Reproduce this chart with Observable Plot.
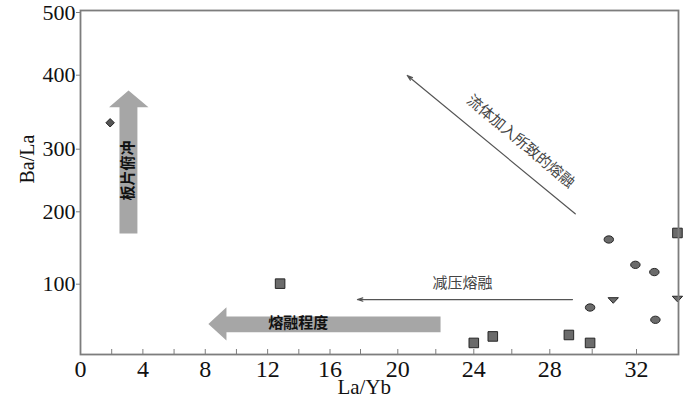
<!DOCTYPE html>
<html><head><meta charset="utf-8">
<script src="https://cdn.jsdelivr.net/npm/d3@7"></script>
<script src="https://cdn.jsdelivr.net/npm/@observablehq/plot@0.6"></script>
<style>body{margin:0;background:#fff}</style>
</head><body><div id="chart"></div>
<script>
// ---- data (La/Yb, Ba/La) ----
const squares   = [[12.8, 98], [24.0, 16], [25.0, 25], [28.9, 27], [29.9, 16], [33.95, 168]];
const circles   = [[30.75, 159], [31.95, 124], [32.85, 114], [29.9, 65], [32.9, 48]];
const triangles = [[30.95, 75], [33.95, 77]];
const diamonds  = [[1.9, 333]];

// ---- axis ticks ----
const xTickLabels = [0, 4, 8, 12, 16, 20, 24, 28, 32];
const xMinorTicks = [0, 2, 4, 6, 8, 10, 12, 14, 16, 18, 20, 22, 24, 26, 28, 30, 32];
const yTickLabels = [100, 200, 300, 400, 500];
const xTitle = ["La/Yb"];
const yTitle = ["Ba/La"];

// ---- annotations (data units) ----
const slabArrow  = [[2.5, 167.3], [2.5, 354], [1.83, 354], [3.08, 376.6], [4.36, 354], [3.65, 354], [3.65, 167.3]];
const meltArrow  = [[22.25, 52.6], [9.36, 52.6], [9.36, 65.4], [8.2, 42.2], [9.36, 19.4], [9.36, 30.8], [22.25, 30.8]];
const thinArrows = [
  {x1: 29.07, y1: 76, x2: 17.8, y2: 76},
  {x1: 29.2, y1: 194.5, x2: 20.5, y2: 396.9}
];
const boldLabels = [
  {text: "板片俯冲", x: 3.08, y: 262.8, rotate: -90},
  {text: "熔融程度", x: 13.97, y: 42.9, rotate: 0}
];
const grayLabels = [
  {text: "减压熔融", x: 23.4, y: 98, rotate: 0},
  {text: "流体加入所致的熔融", x: 26.46, y: 307.7, rotate: 40}
];

// The source figure's axes are not evenly spaced; these warps reproduce its tick spacing.
const warpX = d3.scaleLinear().domain([0, 16, 18, 20, 24, 28, 30, 32, 34]).range([0, 249.5, 280, 317.3, 393.3, 469.3, 511.7, 556, 598]);
const warpY = d3.scaleLinear().domain([0, 100, 200, 300, 400, 500]).range([0, 72.3, 144.7, 207.3, 281.3, 344]);

const flatDown = {draw(ctx, size) {
  const s = Math.sqrt(size / Math.PI);
  ctx.moveTo(-1.2 * s, -0.6 * s); ctx.lineTo(1.2 * s, -0.6 * s); ctx.lineTo(0, 0.7 * s); ctx.closePath();
}};
const ellipse = {draw(ctx, size) {
  const s = Math.sqrt(size / Math.PI), rx = 1.1 * s, ry = 0.85 * s, k = 0.5523;
  ctx.moveTo(rx, 0);
  ctx.bezierCurveTo(rx, k * ry, k * rx, ry, 0, ry);
  ctx.bezierCurveTo(-k * rx, ry, -rx, k * ry, -rx, 0);
  ctx.bezierCurveTo(-rx, -k * ry, -k * rx, -ry, 0, -ry);
  ctx.bezierCurveTo(k * rx, -ry, rx, -k * ry, rx, 0);
  ctx.closePath();
}};

const serif = "'Liberation Serif', 'Times New Roman', serif";
const cjk = "'Noto Sans CJK SC', sans-serif";
const markFill = "#6b6b6b", markStroke = "#262626";

const chart = Plot.plot({
  width: 700, height: 400,
  marginLeft: 80, marginRight: 22, marginTop: 10, marginBottom: 46,
  style: {fontFamily: serif, fontSize: "24px", color: "#111", background: "#fff"},
  x: {transform: warpX, domain: [0, 598], label: null},
  y: {transform: warpY, domain: [0, 344], label: null},
  marks: [
    Plot.line(slabArrow, {x: d => d[0], y: d => d[1], fill: "#a6a6a6", stroke: "none"}),
    Plot.line(meltArrow, {x: d => d[0], y: d => d[1], fill: "#a6a6a6", stroke: "none"}),
    Plot.arrow(thinArrows, {x1: "x1", y1: "y1", x2: "x2", y2: "y2", stroke: "#555", strokeWidth: 1.2, headLength: 7, headAngle: 35}),
    Plot.text(boldLabels, {x: "x", y: "y", text: "text", rotate: "rotate", fontFamily: cjk, fontSize: 15, fontWeight: "bold", fill: "#111"}),
    Plot.text(grayLabels, {x: "x", y: "y", text: "text", rotate: "rotate", fontFamily: cjk, fontSize: 15, fill: "#444", letterSpacing: 2}),
    Plot.dot(squares, {x: d => d[0], y: d => d[1], symbol: "square", r: 5.4, fill: markFill, stroke: markStroke, strokeWidth: 1}),
    Plot.dot(circles, {x: d => d[0], y: d => d[1], symbol: ellipse, r: 4.3, fill: markFill, stroke: markStroke, strokeWidth: 1}),
    Plot.dot(triangles, {x: d => d[0], y: d => d[1], symbol: flatDown, r: 4.3, fill: markFill, stroke: markStroke, strokeWidth: 1}),
    Plot.dot(diamonds, {x: d => d[0], y: d => d[1], symbol: "diamond2", r: 3.8, fill: "#555", stroke: markStroke, strokeWidth: 1}),
    Plot.frame({stroke: "#7d7d7d", strokeWidth: 1.8}),
    Plot.axisX(xMinorTicks, {tickSize: -5, tickFormat: () => "", stroke: "#7d7d7d"}),
    Plot.axisX(xTickLabels, {tickSize: 0, tickPadding: 5, tickFormat: d => String(d), fontSize: 24, fill: "#111"}),
    Plot.axisY(yTickLabels, {tickSize: 4, tickPadding: 1, tickFormat: d => String(d), fontSize: 22, fill: "#111", stroke: "#7d7d7d", dy: 2}),
    Plot.text(xTitle, {x: 18.2, frameAnchor: "bottom", dy: 33, fontSize: 21, fill: "#111", lineAnchor: "middle"}),
    Plot.text(yTitle, {y: 242, frameAnchor: "left", dx: -53, rotate: -90, fontSize: 20, fill: "#111", lineAnchor: "middle"})
  ]
});
document.getElementById("chart").appendChild(chart);
</script>
</body></html>
